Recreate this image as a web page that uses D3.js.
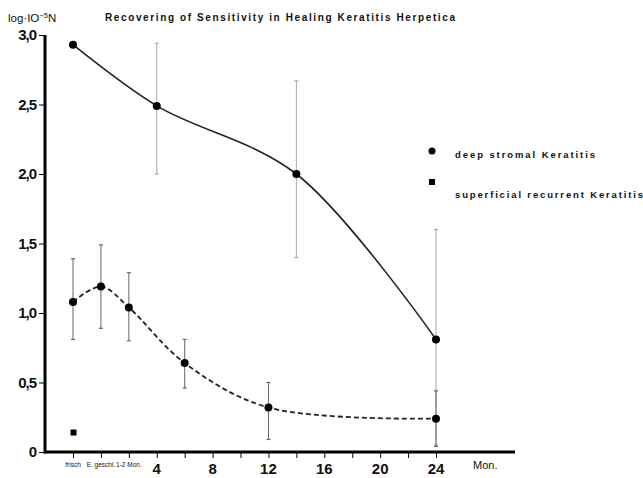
<!DOCTYPE html>
<html><head><meta charset="utf-8">
<script src="https://cdn.jsdelivr.net/npm/d3@7"></script>
<style>body{margin:0;background:#fff}svg{display:block}text{font-family:"Liberation Sans",Arial,sans-serif;fill:#111}</style>
</head><body><svg id="c" width="643" height="478"></svg>
<script>
// Data (x in months; -2 = "frisch", 0 = "E. geschl.", 2 = "1-2 Mon.")
const deepMonths = [-2, 4, 14, 24];
const deepValues = [2.93, 2.49, 2.0, 0.81];
const deepLow    = [null, 2.0, 1.40, 0.05];
const deepHigh   = [null, 2.94, 2.67, 1.60];

const supMonths = [-2, 0, 2, 6, 12, 24];
const supValues = [1.08, 1.19, 1.04, 0.64, 0.32, 0.24];
const supLow    = [0.81, 0.89, 0.80, 0.46, 0.09, 0.04];
const supHigh   = [1.39, 1.49, 1.29, 0.81, 0.50, 0.44];

const extraMonths = [-2];
const extraValues = [0.14];

const yTicks = [0, 0.5, 1.0, 1.5, 2.0, 2.5, 3.0];
const yTickLabels = ["0", "0,5", "1,0", "1,5", "2,0", "2,5", "3,0"];
const xMinorTicks = [-2,0,2,4,6,8,10,12,14,16,18,20,22,24];
const xMajorTicks = [4, 8, 12, 16, 20, 24];
const xSmallLabels = [{m:-2, t:"frisch"}, {m:0, t:"E. geschl."}, {m:2, t:"1-2 Mon."}];
const legendLabels = ["deep stromal Keratitis", "superficial recurrent Keratitis"];
const titleText = "Recovering of Sensitivity in Healing Keratitis Herpetica";

const svg = d3.select("#c");
const x = d3.scaleLinear().domain([-2, 24]).range([73, 436]);
const y = d3.scaleLinear().domain([0, 3]).range([452, 35]);

// Title
svg.append("text").attr("x", 105).attr("y", 21).attr("font-size", 10).attr("font-weight", "bold")
  .attr("textLength", 350).attr("lengthAdjust", "spacing").text(titleText);
// Y unit label
const yl = svg.append("text").attr("x", 8).attr("y", 22).attr("font-size", 11.5);
yl.append("tspan").text("log·IO");
yl.append("tspan").attr("font-size", 7.5).attr("dy", -4).text("−5");
yl.append("tspan").attr("dy", 4).text("N");

// Axes
svg.append("line").attr("x1", 45).attr("x2", 45).attr("y1", y(3)).attr("y2", y(0)+1.5)
  .attr("stroke", "#000").attr("stroke-width", 3);
svg.append("line").attr("x1", 44).attr("x2", 515).attr("y1", y(0)).attr("y2", y(0))
  .attr("stroke", "#000").attr("stroke-width", 3);

const yAxis = d3.axisLeft(y).tickValues(yTicks).tickSize(5).tickPadding(3)
  .tickFormat((d, i) => yTickLabels[i]);
const gy = svg.append("g").attr("transform", "translate(44,0)").call(yAxis);
gy.select(".domain").remove();
gy.selectAll("line").attr("stroke", "#000").attr("stroke-width", 1);
gy.selectAll("text").attr("font-size", 15).attr("font-weight", "bold")
  .attr("font-family", "'Liberation Sans Narrow','Liberation Sans',Arial,sans-serif")
  .attr("letter-spacing", -1).style("fill", "#111");

const xAxis = d3.axisBottom(x).tickValues(xMinorTicks).tickSize(5).tickFormat("");
const gx = svg.append("g").attr("transform", `translate(0,${y(0)+1})`).call(xAxis);
gx.select(".domain").remove();
gx.selectAll("line").attr("stroke", "#000").attr("stroke-width", 1);

svg.append("g").selectAll("text").data(xMajorTicks).join("text")
  .attr("x", d => x(d)).attr("y", 474).attr("text-anchor", "middle")
  .attr("font-size", 15).attr("font-weight", "bold")
  .attr("font-family", "'Liberation Sans Narrow','Liberation Sans',Arial,sans-serif")
  .text(d => d);
svg.append("g").selectAll("text").data(xSmallLabels).join("text")
  .attr("x", d => x(d.m)).attr("y", 467).attr("text-anchor", "middle")
  .attr("font-size", 6.5).text(d => d.t);
svg.append("text").attr("x", 473).attr("y", 469).attr("font-size", 11).text("Mon.");

// Error bars
function errBars(months, lo, hi, color, w) {
  const g = svg.append("g");
  months.forEach((m, i) => {
    if (lo[i] == null) return;
    g.append("line").attr("x1", x(m)).attr("x2", x(m)).attr("y1", y(lo[i])).attr("y2", y(hi[i]))
      .attr("stroke", color).attr("stroke-width", w);
    [lo[i], hi[i]].forEach(v => g.append("line").attr("x1", x(m)-2).attr("x2", x(m)+2)
      .attr("y1", y(v)).attr("y2", y(v)).attr("stroke", color).attr("stroke-width", 1.2));
  });
}
errBars(deepMonths, deepLow, deepHigh, "#aaa", 1);
errBars(supMonths, supLow, supHigh, "#666", 1);

// Lines
const deepLine = d3.line().x(d => x(d[0])).y(d => y(d[1])).curve(d3.curveCatmullRom.alpha(0.5));
svg.append("path").datum(deepMonths.map((m, i) => [m, deepValues[i]]))
  .attr("d", deepLine).attr("fill", "none").attr("stroke", "#222").attr("stroke-width", 1.6);
const supLine = d3.line().x(d => x(d[0])).y(d => y(d[1])).curve(d3.curveCatmullRom.alpha(0.5));
svg.append("path").datum(supMonths.map((m, i) => [m, supValues[i]]))
  .attr("d", supLine).attr("fill", "none").attr("stroke", "#222").attr("stroke-width", 1.8)
  .attr("stroke-dasharray", "5,3");

// Points
svg.append("g").selectAll("circle").data(deepMonths).join("circle")
  .attr("cx", d => x(d)).attr("cy", (d, i) => y(deepValues[i])).attr("r", 4).attr("fill", "#000");
svg.append("g").selectAll("circle").data(supMonths).join("circle")
  .attr("cx", d => x(d)).attr("cy", (d, i) => y(supValues[i])).attr("r", 4).attr("fill", "#000");
svg.append("g").selectAll("rect").data(extraMonths).join("rect")
  .attr("x", d => x(d) - 1.5 + 2 - 3).attr("y", (d, i) => y(extraValues[i]) - 3)
  .attr("width", 6).attr("height", 6).attr("fill", "#000");

// Legend
svg.append("circle").attr("cx", 432).attr("cy", 151).attr("r", 3.5).attr("fill", "#000");
svg.append("rect").attr("x", 429).attr("y", 179).attr("width", 6).attr("height", 6).attr("fill", "#000");
svg.append("text").attr("x", 455).attr("y", 158).attr("font-size", 9.5).attr("font-weight", "bold")
  .attr("textLength", 140).attr("lengthAdjust", "spacing").text(legendLabels[0]);
svg.append("text").attr("x", 455).attr("y", 198).attr("font-size", 9.5).attr("font-weight", "bold")
  .attr("textLength", 188).attr("lengthAdjust", "spacing").text(legendLabels[1]);
</script></body></html>
